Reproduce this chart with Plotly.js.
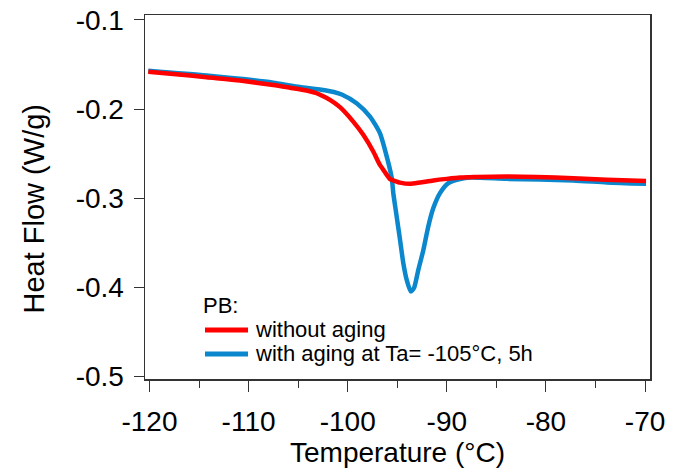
<!DOCTYPE html>
<html>
<head>
<meta charset="utf-8">
<script src="https://cdn.plot.ly/plotly-3.0.1.min.js"></script>
<style>html,body{margin:0;padding:0;background:#fff;}#chart{width:677px;height:475px;}</style>
</head>
<body>
<div id="chart"></div>
<script>
// Without aging (red)
var redT = [-120.12, -117.6, -114.23, -110.87, -107.51, -105.82, -104.14, -103.13, -102.46, -101.79, -100.78, -99.44, -98.43, -97.42, -96.75, -96.41, -96.06, -95.73, -95.40, -94.72, -93.71, -92.70, -91.36, -90.01, -88.67, -87.66, -86.98, -83.96, -80.93, -77.24, -73.86, -69.9];
var redHF = [-0.1580, -0.1605, -0.1643, -0.1680, -0.1729, -0.1760, -0.1792, -0.1822, -0.1857, -0.1897, -0.1978, -0.2140, -0.2289, -0.2476, -0.2626, -0.2680, -0.2738, -0.2786, -0.2800, -0.2825, -0.2839, -0.2824, -0.2801, -0.2783, -0.2768, -0.2764, -0.2762, -0.2757, -0.2762, -0.2775, -0.2792, -0.2808];
// With aging at Ta = -105 °C, 5 h (blue)
var blueT = [-120.12, -114.23, -107.51, -105.82, -104.81, -102.3, -101.4, -100.6, -99.1, -97.75, -96.75, -96.24, -95.56, -95.40, -95.06, -94.72, -94.39, -94.05, -93.64, -93.31, -92.88, -92.37, -91.87, -91.36, -90.69, -89.85, -88.67, -87.66, -83.96, -77.24, -73.86, -69.9];
var blueHF = [-0.1570, -0.1624, -0.1703, -0.1735, -0.1752, -0.1788, -0.1808, -0.1836, -0.1934, -0.2084, -0.2270, -0.2457, -0.2770, -0.2943, -0.3205, -0.3466, -0.3728, -0.3915, -0.4046, -0.4008, -0.3807, -0.3583, -0.3317, -0.3111, -0.2943, -0.2831, -0.2786, -0.2768, -0.2783, -0.2801, -0.2824, -0.2839];

var seriesNames = ['without aging', 'with aging at Ta= -105°C, 5h'];
var seriesColors = ['rgb(255,0,0)', 'rgb(10,135,205)'];
var legendTitle = 'PB:';
var xTickVals = [-120, -110, -100, -90, -80, -70];
var xTickText = ['-120', '-110', '-100', '-90', '-80', '-70'];
var yTickVals = [-0.1, -0.2, -0.3, -0.4, -0.5];
var yTickText = ['-0.1', '-0.2', '-0.3', '-0.4', '-0.5'];
var xTitle = 'Temperature (°C)';
var yTitle = 'Heat Flow (W/g)';

var FONT = '"Liberation Sans", Arial, Helvetica, sans-serif';

var traces = [
  {x: blueT, y: blueHF, name: seriesNames[1], type: 'scatter', mode: 'lines', showlegend: false,
   line: {color: seriesColors[1], width: 4.5, shape: 'spline', smoothing: 0.6}},
  {x: redT, y: redHF, name: seriesNames[0], type: 'scatter', mode: 'lines', showlegend: false,
   line: {color: seriesColors[0], width: 4.5, shape: 'spline', smoothing: 0.6}}
];

// Legend drawn in paper coordinates (key box inside the plot)
var legX0 = 0.1188, legX1 = 0.2040, legTextX = 0.2139;
var legRowY = [0.1346, 0.0687];
var legTextY = [0.1365, 0.0706];
var legendShapes = [0, 1].map(function (i) {
  return {type: 'line', xref: 'paper', yref: 'paper', x0: legX0, x1: legX1, y0: legRowY[i], y1: legRowY[i],
          line: {color: seriesColors[i], width: 5}};
});
var legendTexts = [0, 1].map(function (i) {
  return {text: seriesNames[i], xref: 'paper', yref: 'paper', x: legTextX, y: legTextY[i],
          xanchor: 'left', yanchor: 'middle', showarrow: false,
          font: {family: FONT, size: 22, color: '#000'}};
});
legendTexts.push({text: legendTitle, xref: 'paper', yref: 'paper', x: 0.1109, y: 0.2025,
                  xanchor: 'left', yanchor: 'middle', showarrow: false,
                  font: {family: FONT, size: 22, color: '#000'}});

var layout = {
  width: 677, height: 475,
  margin: {l: 145, r: 27, t: 15, b: 96},
  paper_bgcolor: '#fff', plot_bgcolor: '#fff',
  font: {family: FONT, color: '#000'},
  showlegend: false,
  xaxis: {
    range: [-120.45, -69.5], tickvals: xTickVals, ticktext: xTickText,
    ticks: 'outside', ticklen: 11, tickwidth: 1, tickcolor: '#333',
    minor: {dtick: 5, tick0: -120, ticks: 'outside', ticklen: 7, tickwidth: 1, tickcolor: '#333'},
    showline: true, linecolor: '#333', linewidth: 1.5, mirror: true,
    showgrid: false, zeroline: false,
    tickfont: {family: FONT, size: 28, color: '#000'},
    ticklabelstandoff: 6,
    title: {text: xTitle, font: {family: FONT, size: 28, color: '#000'}, standoff: 3}
  },
  yaxis: {
    range: [-0.5029, -0.0944], tickvals: yTickVals, ticktext: yTickText,
    ticks: 'outside', ticklen: 10, tickwidth: 1, tickcolor: '#333',
    showline: true, linecolor: '#333', linewidth: 1.5, mirror: true,
    showgrid: false, zeroline: false,
    tickfont: {family: FONT, size: 28, color: '#000'},
    ticklabelstandoff: 4
  },
  shapes: legendShapes,
  annotations: [{
    text: yTitle, xref: 'paper', yref: 'paper',
    x: -0.2198, y: 0.4657, xanchor: 'center', yanchor: 'middle',
    textangle: -90, showarrow: false,
    font: {family: FONT, size: 29, color: '#000'}
  }].concat(legendTexts)
};

Plotly.newPlot('chart', traces, layout, {displayModeBar: false, staticPlot: true});
</script>
</body>
</html>
